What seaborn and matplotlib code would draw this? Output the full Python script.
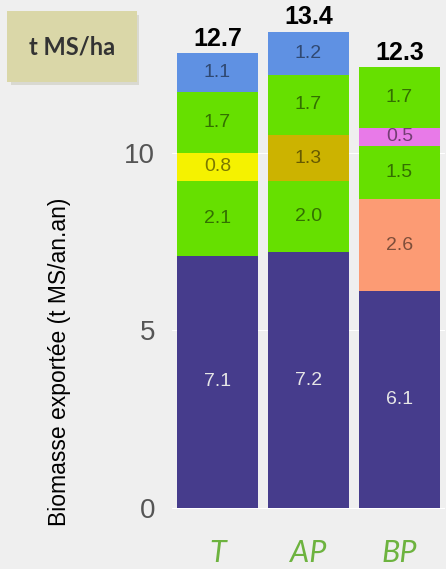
import numpy as np
import seaborn as sns
import matplotlib.pyplot as plt
from matplotlib.patches import Rectangle
from matplotlib.colors import to_rgb

# data: one list per bar, segments from bottom to top
categories = ['T', 'AP', 'BP']
seg_T = [7.1, 2.1, 0.8, 1.7, 1.1]
seg_AP = [7.2, 2.0, 1.3, 1.7, 1.2]
seg_BP = [6.1, 2.6, 1.5, 0.5, 1.7]
totals = [12.7, 13.4, 12.3]
y_label = 'Biomasse exportée (t MS/an.an)'
unit_tag = 't MS/ha'

# segment colours (bottom to top) for each bar
indigo, green, blue = '#463c8c', '#66e000', '#5f91e3'
col_T = [indigo, green, '#f5f200', green, blue]
col_AP = [indigo, green, '#ccb300', green, blue]
col_BP = [indigo, '#fc9b74', green, '#e87ae8', green]

segments = np.array([seg_T, seg_AP, seg_BP])
colors = [col_T, col_AP, col_BP]
bg = '#efefef'

sns.set_theme(style='darkgrid', rc={'axes.facecolor': bg, 'figure.facecolor': bg,
                                    'grid.color': 'white', 'grid.linewidth': 0.8})
plt.rcParams['font.family'] = ['Liberation Sans', 'DejaVu Sans']

W, H = 446, 569
fig = plt.figure(figsize=(W / 100, H / 100), dpi=100)
ax = fig.add_axes([172 / W, 1 - 527.5 / H, 273 / W, 527.5 / H])

bottoms = np.zeros(len(categories))
for i in range(segments.shape[1]):
    vals = segments[:, i]
    n0 = len(ax.patches)
    sns.barplot(x=categories, y=vals, bottom=bottoms, width=0.9, color=indigo,
                errorbar=None, linewidth=0, saturation=1, ax=ax)
    for j, patch in enumerate(ax.patches[n0:]):
        c = colors[j][i]
        patch.set_facecolor(c)
        if c == indigo:
            tc = '#e6e6e6'
        else:
            tc = tuple(0.5 * v for v in to_rgb(c))
        ax.text(j, bottoms[j] + vals[j] / 2, f'{vals[j]:.1f}', ha='center', va='center',
                fontsize=14, color=tc)
    bottoms = bottoms + vals

for j, t in enumerate(totals):
    ax.annotate(f'{t:.1f}', (j, bottoms[j]), xytext=(0, 2), textcoords='offset points',
                ha='center', va='bottom', fontsize=18, fontweight='bold', color='black')

ax.set_xlim(-0.5, 2.5)
ax.set_ylim(-0.55, 14.3)
ax.set_yticks([0, 5, 10])
ax.tick_params(axis='y', labelsize=20, labelcolor='#555555', length=3, color='#aaaaaa', pad=9)
ax.tick_params(axis='x', length=0, pad=8)
for lab in ax.get_xticklabels():
    lab.set_fontsize(22)
    lab.set_fontstyle('italic')
    lab.set_color('#6db33f')
    lab.set_family(['Lato', 'DejaVu Sans'])
ax.set_xlabel('')
ax.set_ylabel('')
fig.text(60 / W, 1 - 362 / H, y_label, rotation=90, ha='center', va='center',
         fontsize=16.5, color='black')
for s in ax.spines.values():
    s.set_visible(False)

# unit tag box in the top left corner
fig.add_artist(Rectangle((11 / W, 1 - 85 / H), 128 / W, 70 / H, transform=fig.transFigure,
                         facecolor='#c4c4b4', edgecolor='none', alpha=0.5))
fig.add_artist(Rectangle((7 / W, 1 - 82 / H), 130 / W, 71 / H, transform=fig.transFigure,
                         facecolor='#dad7a8', edgecolor='none'))
fig.text(72 / W, 1 - 47 / H, unit_tag, ha='center', va='center', fontsize=17,
         fontweight='bold', color='#333333', family=['Lato', 'DejaVu Sans'])

fig.savefig('out.png', dpi=100, facecolor=bg)
